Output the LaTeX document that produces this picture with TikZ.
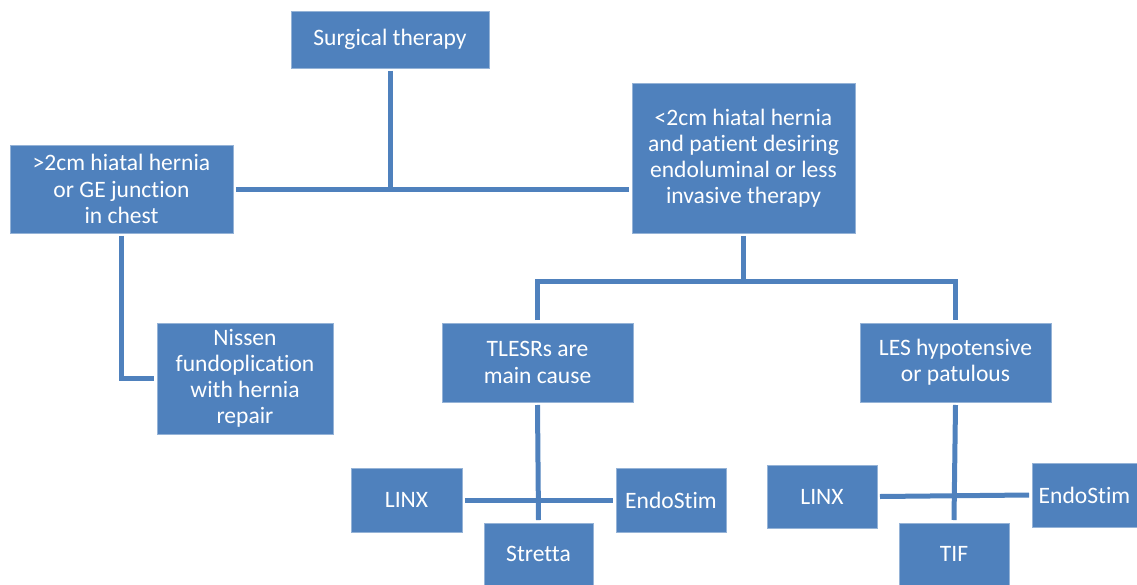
\documentclass[tikz,border=0pt]{standalone}
\usepackage{fontspec}
\setmainfont[Ligatures=NoCommon]{Carlito}
\usepackage{xcolor}
\usepackage{tikz}
\usetikzlibrary{positioning,calc}
\definecolor{boxblue}{HTML}{4F81BD}
\tikzset{
    box/.style={rectangle,fill=boxblue,draw=boxblue!60!white,line width=0.4pt,text=white,align=center,
        inner sep=0pt,outer sep=0.06cm,font=\fontsize{13.4}{14.9}\selectfont},
    link/.style={draw=boxblue,line width=0.1cm}
}
\begin{document}
\begin{tikzpicture}[x=0.02cm,y=-0.02cm]
    \useasboundingbox (0,0) rectangle (1137,585);
    % top
    \node[box,minimum width=3.96cm,minimum height=1.14cm] (surg) at (390,39.5) {Surgical therapy};
    \node[box,minimum width=4.46cm,minimum height=1.76cm] (big) at (121.5,189) {>2cm hiatal hernia\\or GE junction\\in chest};
    \node[box,minimum width=4.46cm,minimum height=3.0cm] (small) at (743.5,158) {<2cm hiatal hernia\\and patient desiring\\endoluminal or less\\invasive therapy};
    \draw[link] (surg.south) -- (surg.south |- big.east);
    \draw[link] (big.east) -- (big.east -| small.west);
    % left branch
    \node[box,minimum width=3.52cm,minimum height=2.22cm] (nissen) at (245,378.5) {Nissen\\fundoplication\\with hernia\\repair};
    \draw[link] (big.south) |- (nissen.west);
    % right branch
    \node[box,minimum width=3.82cm,minimum height=1.58cm] (tlesr) at (537.5,362.5) {TLESRs are\\main cause};
    \node[box,minimum width=3.82cm,minimum height=1.58cm] (les) at (955.5,362.5) {LES hypotensive\\or patulous};
    \coordinate (split) at (743.5,281);
    \draw[link] (small.south) -- (split);
    \draw[link] (tlesr.north) |- (split) -| (les.north);
    % TLESRs options
    \node[box,minimum width=2.22cm,minimum height=1.28cm] (linxa) at (406.5,500) {LINX};
    \node[box,minimum width=2.2cm,minimum height=1.28cm] (endoa) at (671,500) {EndoStim};
    \node[box,minimum width=2.18cm,minimum height=1.24cm] (stretta) at (538.5,554) {Stretta};
    \draw[link] (tlesr.south) -- (stretta.north);
    \draw[link] (linxa.east) -- (endoa.west);
    % LES options
    \node[box,minimum width=2.2cm,minimum height=1.26cm] (linxb) at (822,496.5) {LINX};
    \node[box,minimum width=2.1cm,minimum height=1.28cm] (endob) at (1084.5,495) {EndoStim};
    \node[box,minimum width=2.2cm,minimum height=1.24cm] (tif) at (954,554) {TIF};
    \draw[link] (les.south) -- (tif.north);
    \draw[link] (linxb.east) -- (endob.west);
\end{tikzpicture}
\end{document}
